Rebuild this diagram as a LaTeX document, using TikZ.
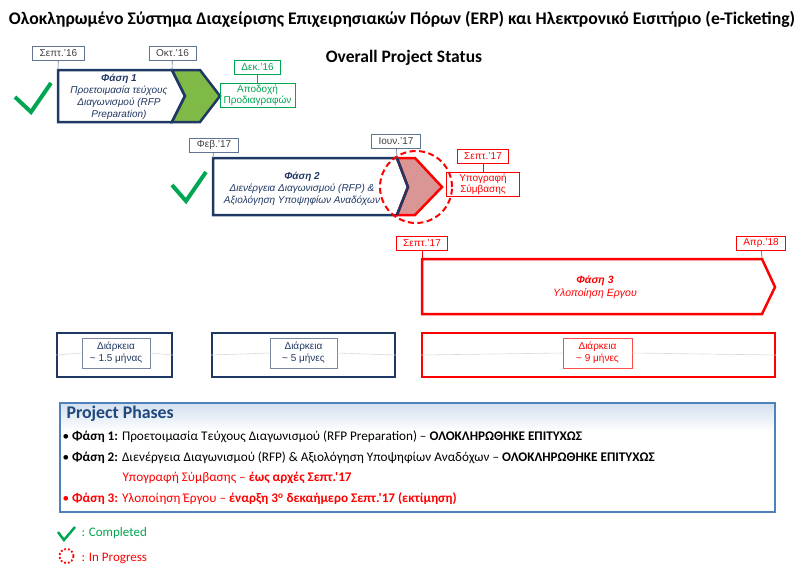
\documentclass[tikz,border=0pt]{standalone}
\usepackage{fontspec}
\setmainfont{Liberation Sans}
\newfontfamily\calibri{Carlito}
\usepackage{xcolor}
\usepackage{tikz}
\usetikzlibrary{positioning}

\definecolor{navy}{RGB}{32,56,100}
\definecolor{okgreen}{RGB}{0,166,81}
\definecolor{leafgreen}{RGB}{128,186,70}
\definecolor{alert}{RGB}{255,0,0}
\definecolor{rose}{RGB}{218,150,148}
\definecolor{frameblue}{RGB}{79,129,189}
\definecolor{titleblue}{RGB}{31,73,125}

\begin{document}
\begin{tikzpicture}
[
	x = 1pt, y = -1pt,
	date/.style	= {draw = navy!70, line width = 0.8pt, inner xsep = 7pt, inner ysep = 1pt, minimum height = 14pt, font = \fontsize{10}{10}\selectfont, text = black!75},
	greendate/.style	= {date, draw = okgreen, text = okgreen},
	reddate/.style	= {date, draw = alert, text = alert},
	milestone/.style	= {draw, line width = 0.8pt, align = center, inner sep = 1.5pt, font = \fontsize{10}{11}\selectfont},
	phase/.style	= {line width = 2.5pt, line join = miter},
	ptext/.style	= {align = center, font = \fontsize{10}{12}\selectfont\itshape},
	dur/.style	= {draw, line width = 1.2pt, minimum height = 44pt},
	durlab/.style	= {draw, line width = 0.6pt, align = center, minimum height = 30pt, fill = white, font = \fontsize{10}{12}\selectfont},
	midline/.style	= {gray!30, line width = 0.6pt},
	tick/.style	= {line width = 0.6pt},
	check/.style	= {okgreen, line width = 4pt, line join = miter},
	bullet/.style	= {anchor = west, font = \calibri\fontsize{13.2}{15}\selectfont},
	node distance = 8pt,
]
	\useasboundingbox (0,0) rectangle (802,568);

	\node (title) at (402,19) [font = \calibri\bfseries\fontsize{17.7}{20}\selectfont] {Ολοκληρωμένο Σύστημα Διαχείρισης Επιχειρησιακών Πόρων (ERP) και Ηλεκτρονικό Εισιτήριο (e-Ticketing)};
	\node (status) at (404,58) [font = \calibri\bfseries\fontsize{17.5}{20}\selectfont] {Overall Project Status};

	% phase 1
	\draw [phase, draw = navy, fill = white] (58,70) -- (172,70) -- (185,96) -- (172,122) -- (58,122) -- cycle;
	\draw [phase, draw = navy, fill = leafgreen] (172,70) -- (200,70) -- (220,96) -- (200,122) -- (172,122) -- (185,96) -- cycle;
	\coordinate (p1start) at (58,70);
	\coordinate (p1end) at (172,70);
	\node (ph1text) at (119,97) [ptext, text = navy] {{\bfseries Φάση 1}\\Προετοιμασία τεύχους\\Διαγωνισμού (RFP\\Preparation)};
	%
	\node (sep16) at (58.5,53) [date] {Σεπτ.'16};
	\node (oct16) at (172.5,53) [date] {Οκτ.'16};
	\node (dec16) at (257.5,67.5) [greendate] {Δεκ.'16};
	\node (accept) [milestone, below = of dec16, draw = okgreen, text = okgreen, minimum width = 75pt] {Αποδοχή\\Προδιαγραφών};
	\draw [tick, navy!70] (sep16) -- (p1start);
	\draw [tick, navy!70] (oct16) -- (p1end);
	\draw [tick, okgreen] (dec16) -- (accept);
	\draw [check] (15,97) -- (31,112) -- (51,83);

	% phase 2
	\draw [phase, draw = navy, fill = white] (213,158) -- (397,158) -- (408,187) -- (397,215) -- (213,215) -- cycle;
	\coordinate (p2start) at (213,158);
	\coordinate (p2end) at (397,158);
	\node (ph2text) at (302,189) [ptext, text = navy] {{\bfseries Φάση 2}\\Διενέργεια Διαγωνισμού (RFP) \&\\Αξιολόγηση Υποψηφίων Αναδόχων};
	\draw [phase, draw = alert, fill = rose] (397,158) -- (415,158) -- (442,187) -- (415,215) -- (397,215) -- (408,187) -- cycle;
	\draw [navy, line width = 2.5pt] (397,158) -- (408,187) -- (397,215);
	\node (progress) at (416,187) [circle, draw = alert, dash pattern = on 6pt off 3.5pt, line width = 2pt, minimum size = 72pt] {};
	%
	\node (feb17) at (214,145) [date] {Φεβ.'17};
	\node (jun17) at (396,141) [date] {Ιουν.'17};
	\node (sep17a) at (483,156.5) [reddate] {Σεπτ.'17};
	\node (sign) [milestone, below = of sep17a, draw = alert, text = alert, minimum width = 73pt] {Υπογραφή\\Σύμβασης};
	\draw [tick, navy!70] (feb17) -- (p2start);
	\draw [tick, navy!70] (jun17) -- (p2end);
	\draw [tick, alert] (sep17a) -- (sign);
	\draw [check] (172,185) -- (186,201) -- (206,172);

	% phase 3
	\draw [phase, draw = alert, fill = white] (422,259) -- (762,259) -- (775,287) -- (762,314) -- (422,314) -- cycle;
	\coordinate (p3start) at (422,259);
	\coordinate (p3end) at (762,259);
	\node (ph3text) at (595,287) [ptext, text = alert, font = \fontsize{10.5}{13}\selectfont\itshape] {{\bfseries Φάση 3}\\Υλοποίηση Εργου};
	%
	\node (sep17b) at (422,243) [reddate] {Σεπτ.'17};
	\node (apr18) at (761,243) [reddate] {Απρ.'18};
	\draw [tick, alert] (sep17b) -- (p3start);
	\draw [tick, alert] (apr18) -- (p3end);

	% durations
	\node (dur1) at (114.5,355) [dur, draw = navy, minimum width = 115pt] {};
	\node (dur2) at (303.5,355) [dur, draw = navy, minimum width = 183pt] {};
	\node (dur3) at (598.5,355) [dur, draw = alert, minimum width = 353pt] {};
	\node (lab1) at (116,353) [durlab, draw = navy!60, text = navy, minimum width = 68pt] {Διάρκεια\\\textasciitilde{} 1.5 μήνας};
	\node (lab2) at (303.5,353) [durlab, draw = navy!60, text = navy, minimum width = 67pt] {Διάρκεια\\\textasciitilde{} 5 μήνες};
	\node (lab3) at (597.5,353) [durlab, draw = alert!70, text = alert, minimum width = 69pt] {Διάρκεια\\\textasciitilde{} 9 μήνες};
	\draw [midline] (dur1.west) -- (lab1.west);
	\draw [midline] (lab1.east) -- (dur1.east);
	\draw [midline] (dur2.west) -- (lab2.west);
	\draw [midline] (lab2.east) -- (dur2.east);
	\draw [midline] (dur3.west) -- (lab3.west);
	\draw [midline] (lab3.east) -- (dur3.east);

	% project phases
	\shade [top color = frameblue!25, bottom color = white] (60,403) rectangle (775,432);
	\node (phases) at (417.5,457.5) [draw = frameblue, line width = 1.2pt, minimum width = 715pt, minimum height = 109pt] {};
	\node (phtitle) at (63,414) [anchor = west, text = titleblue, font = \calibri\bfseries\fontsize{17.8}{20}\selectfont] {Project Phases};
	\node (item1) at (59,437) [bullet] {• \textbf{Φάση 1:} Προετοιμασία Τεύχους Διαγωνισμού (RFP Preparation) – \textbf{ΟΛΟΚΛΗΡΩΘΗΚΕ ΕΠΙΤΥΧΩΣ}};
	\node (item2) at (59,458) [bullet] {• \textbf{Φάση 2:} Διενέργεια Διαγωνισμού (RFP) \& Αξιολόγηση Υποψηφίων Αναδόχων – \textbf{ΟΛΟΚΛΗΡΩΘΗΚΕ ΕΠΙΤΥΧΩΣ}};
	\node (item2b) at (119,478) [bullet, text = alert] {Υπογραφή Σύμβασης – \textbf{έως αρχές Σεπτ.'17}};
	\node (item3) at (59,499) [bullet, text = alert] {• \textbf{Φάση 3:} Υλοποίηση Έργου – \textbf{έναρξη 3\textsuperscript{ο} δεκαήμερο Σεπτ.'17 (εκτίμηση)}};

	% legend
	\draw [check, line width = 2.5pt] (58,532) -- (64,540) -- (75,527);
	\node (done) at (78,533) [bullet, text = okgreen, font = \calibri\fontsize{13}{15}\selectfont] {: Completed};
	\node (open) at (66.5,556) [circle, draw = alert, dotted, line width = 1.8pt, minimum size = 14pt, inner sep = 0pt] {};
	\node (going) at (78,558) [bullet, text = alert, font = \calibri\fontsize{13}{15}\selectfont] {: In Progress};

\end{tikzpicture}
\end{document}
